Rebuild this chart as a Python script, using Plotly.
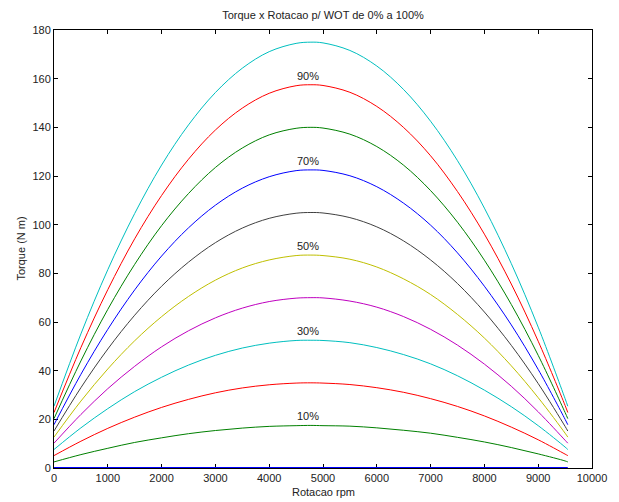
import plotly.graph_objects as go

# ---- data ----
rpm = [0, 500, 1000, 1500, 2000, 2500, 3000, 3500, 4000, 4500, 4775,
       5000, 5500, 6000, 6500, 7000, 7500, 8000, 8500, 9000, 9500, 9550]

wot_labels = ["0%", "10%", "20%", "30%", "40%", "50%", "60%", "70%", "80%", "90%", "100%"]

t0 = [0.0] * 22
t10 = [2.5, 5.5, 8.1, 10.5, 12.4, 14.1, 15.4, 16.4, 17.1, 17.4, 17.5,
       17.4, 17.2, 16.5, 15.5, 14.3, 12.6, 10.7, 8.4, 5.8, 2.9, 2.5]
t20 = [5.1, 11.0, 16.3, 20.9, 24.9, 28.2, 30.9, 32.9, 34.2, 34.9, 35.0,
       34.9, 34.3, 33.0, 31.1, 28.5, 25.3, 21.4, 16.8, 11.6, 5.7, 5.1]
t30 = [7.6, 16.5, 24.4, 31.4, 37.3, 42.3, 46.3, 49.3, 51.3, 52.4, 52.5,
       52.4, 51.5, 49.5, 46.6, 42.8, 37.9, 32.0, 25.2, 17.4, 8.6, 7.6]
t40 = [10.2, 22.0, 32.6, 41.8, 49.8, 56.4, 61.7, 65.7, 68.4, 69.8, 70.0,
       69.9, 68.6, 66.1, 62.2, 57.0, 50.5, 42.7, 33.6, 23.1, 11.4, 10.2]
t50 = [12.7, 27.5, 40.7, 52.3, 62.2, 70.5, 77.2, 82.2, 85.5, 87.3, 87.5,
       87.3, 85.8, 82.6, 77.7, 71.3, 63.1, 53.4, 42.0, 28.9, 14.3, 12.7]
t60 = [15.2, 33.0, 48.9, 62.8, 74.7, 84.6, 92.6, 98.6, 102.6, 104.7, 105.0,
       104.8, 102.9, 99.1, 93.3, 85.5, 75.8, 64.1, 50.4, 34.7, 17.1, 15.2]
t70 = [17.8, 38.5, 57.0, 73.2, 87.1, 98.7, 108.0, 115.0, 119.7, 122.2, 122.5,
       122.3, 120.1, 115.6, 108.8, 99.8, 88.4, 74.7, 58.8, 40.5, 20.0, 17.8]
t80 = [20.3, 44.0, 65.2, 83.7, 99.6, 112.8, 123.5, 131.5, 136.9, 139.6, 140.0,
       139.7, 137.2, 132.1, 124.4, 114.0, 101.0, 85.4, 67.2, 46.3, 22.8, 20.3]
t90 = [22.8, 49.5, 73.3, 94.2, 112.0, 126.9, 138.9, 147.9, 154.0, 157.1, 157.5,
       157.2, 154.4, 148.6, 139.9, 128.3, 113.6, 96.1, 75.6, 52.1, 25.7, 22.8]
t100 = [25.4, 55.1, 81.5, 104.6, 124.5, 141.0, 154.3, 164.3, 171.1, 174.5, 175.0,
        174.7, 171.6, 165.2, 155.5, 142.5, 126.3, 106.8, 84.0, 57.9, 28.5, 25.4]

series = [t0, t10, t20, t30, t40, t50, t60, t70, t80, t90, t100]
labelled = ["10%", "30%", "50%", "70%", "90%"]

x_ticks = [0, 1000, 2000, 3000, 4000, 5000, 6000, 7000, 8000, 9000, 10000]
y_ticks = [0, 20, 40, 60, 80, 100, 120, 140, 160, 180]

# ---- style ----
colors = ["#0000FF", "#008000", "#FF0000", "#00BFBF", "#BF00BF", "#BFBF00",
          "#404040", "#0000FF", "#008000", "#FF0000", "#00BFBF"]
FONT = "Arial, Liberation Sans, sans-serif"

fig = go.Figure()
for name, ys, c in zip(wot_labels, series, colors):
    fig.add_trace(go.Scatter(x=rpm, y=ys, mode="lines", name=name,
                             line=dict(color=c, width=2 if name == "0%" else 1,
                                       shape="spline", smoothing=1.0),
                             showlegend=False, hoverinfo="skip"))

# percentage labels above selected curves
for name, ys in zip(wot_labels, series):
    if name in labelled:
        peak = max(ys)
        xi = rpm[ys.index(peak)]
        fig.add_annotation(x=xi - 60, y=peak, text=name, showarrow=False,
                           yanchor="bottom", yshift=1,
                           font=dict(family=FONT, size=11, color="#222222"))

W, H = 619, 502
L, R, T, B = 54, 18, 30, 34
pw, ph = W - L - R, H - T - B

fig.add_annotation(xref="paper", yref="paper", x=0.5, y=-(492 - (H - B)) / ph,
                   text="Rotacao rpm", showarrow=False, yanchor="middle",
                   font=dict(family=FONT, size=11, color="#222222"))
fig.add_annotation(xref="paper", yref="paper", x=(20 - L) / pw, y=0.5,
                   text="Torque (N m)", showarrow=False, textangle=-90,
                   xanchor="center", yanchor="middle",
                   font=dict(family=FONT, size=11, color="#222222"))

axis_common = dict(showline=True, linecolor="black", linewidth=1, mirror="ticks",
                   ticks="inside", ticklen=4, tickcolor="black", tickwidth=1,
                   showgrid=False, zeroline=False, layer="below traces",
                   tickfont=dict(family=FONT, size=11, color="#222222"))

fig.update_layout(
    width=W, height=H,
    margin=dict(l=L, r=R, t=T, b=B),
    paper_bgcolor="white", plot_bgcolor="white",
    title=dict(text="Torque x Rotacao p/ WOT de 0% a 100%", x=0.5, xref="paper",
               y=1 - 15 / H, yanchor="middle", yref="container",
               font=dict(family=FONT, size=11, color="#222222")),
    xaxis=dict(range=[0, 10000], tickvals=x_ticks, ticktext=[str(v) for v in x_ticks],
               **axis_common),
    yaxis=dict(range=[0, 180], tickvals=y_ticks, ticktext=[str(v) for v in y_ticks],
               **axis_common),
)

fig.write_html("out.html", config={"displayModeBar": False},
               post_script="document.body.style.margin='0';document.body.style.overflow='hidden';")
